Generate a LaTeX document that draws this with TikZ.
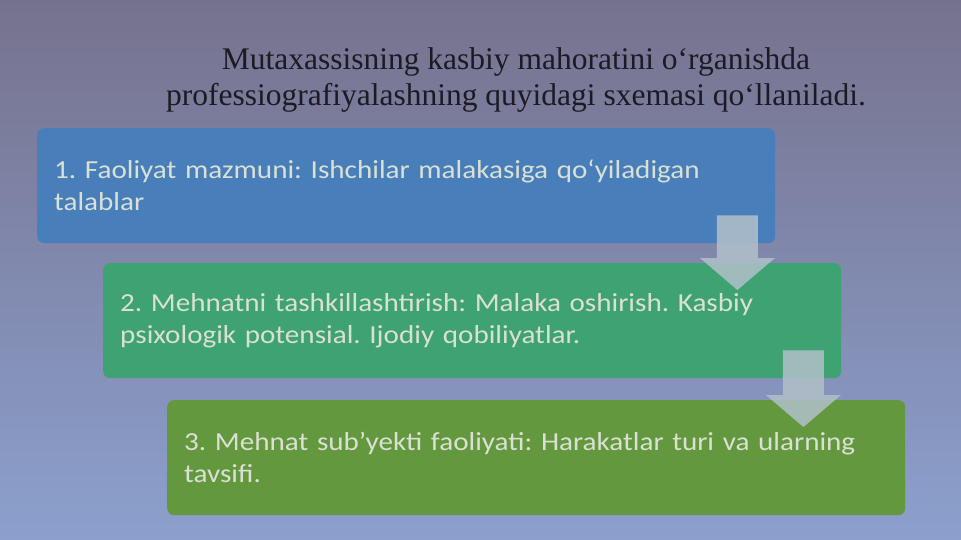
\documentclass[tikz,border=0pt]{standalone}
\usepackage{fontspec}
\setmainfont{Liberation Serif}
\newfontfamily\boxfont{Carlito}[FakeStretch=1.12]
\usetikzlibrary{calc}
\frenchspacing

\definecolor{bgtop}{RGB}{118,114,142}
\definecolor{bgmid}{RGB}{124,128,162}
\definecolor{bgbot}{RGB}{140,160,205}
\definecolor{titletext}{RGB}{28,26,36}
\definecolor{boxtext}{RGB}{218,224,212}
\definecolor{bluebox}{RGB}{72,126,186}
\definecolor{greenbox}{RGB}{62,162,114}
\definecolor{olivebox}{RGB}{100,152,62}
\definecolor{arrowfill}{RGB}{178,192,202}

\begin{document}
\begin{tikzpicture}[x=1pt, y=-1pt, line join=round,
    stepbox/.style={anchor=north west, rounded corners=7pt, minimum height=115pt,
      text width=704pt, inner xsep=17pt, align=left, text=boxtext,
      font=\boxfont\fontsize{26}{32}\selectfont},
    downarrow/.style={fill=arrowfill, fill opacity=0.85}]
    \useasboundingbox (0,0) rectangle (961,540);
    \shade[top color=bgtop, middle color=bgmid, bottom color=bgbot] (0,0) rectangle (961,540);

    % title
    \node[align=center, text=titletext, font=\fontsize{31.5}{36}\selectfont] (title) at (516,80)
      {Mutaxassisning kasbiy mahoratini o‘rganishda\\
       professiografiyalashning quyidagi sxemasi qo‘llaniladi.};

    % steps
    \node[stepbox, fill=bluebox] (box1) at (37,128)
      {1. Faoliyat mazmuni: Ishchilar malakasiga qo‘yiladigan\\ talablar};
    \node[stepbox, fill=greenbox] (box2) at (103,263)
      {2. Mehnatni tashkillashtirish: Malaka oshirish. Kasbiy\\ psixologik potensial. Ijodiy qobiliyatlar.};
    \node[stepbox, fill=olivebox] (box3) at (167,400)
      {3. Mehnat sub’yekti faoliyati: Harakatlar turi va ularning\\ tavsifi.};

    % arrows between steps
    \foreach \a/\b in {box1/box2, box2/box3} {
      \coordinate (top) at ($(\a.south east)+(-38,-28)$);
      \coordinate (tip) at ($(\b.north -| top)+(0,27)$);
      \fill[downarrow] (top) ++(-20.5,0) -- ++(41,0) |- ($(tip)+(37.5,-32)$) -- (tip)
        -- ++(-37.5,-32) -- ++(17,0) -- cycle;
    }
\end{tikzpicture}
\end{document}
